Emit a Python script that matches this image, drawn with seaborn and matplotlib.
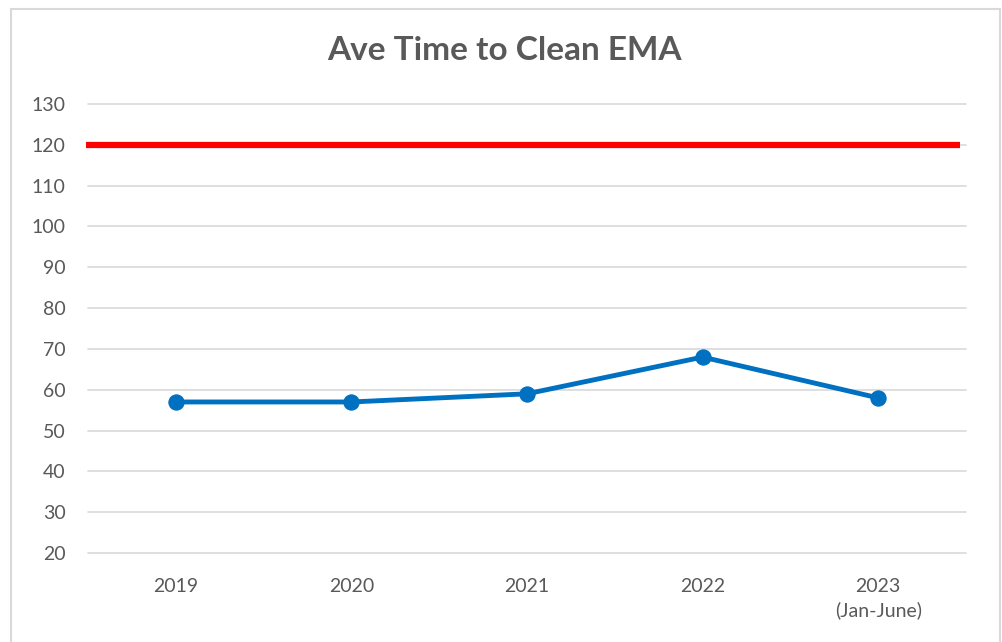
import matplotlib
matplotlib.use("Agg")
import matplotlib.pyplot as plt
import matplotlib.patches as patches
import seaborn as sns
import pandas as pd

categories = ["2019", "2020", "2021", "2022", "2023\n(Jan-June)"]
ave_time = [57, 57, 59, 68, 58]
target = 120
yticks = [20, 30, 40, 50, 60, 70, 80, 90, 100, 110, 120, 130]
title = "Ave Time to Clean EMA"

sns.set_theme(style="white")
plt.rcParams['font.family'] = ['Lato', 'DejaVu Sans']

fig = plt.figure(figsize=(10.03, 6.42), dpi=100)
ax = fig.add_axes([88/1003, 1-553/642, (966-88)/1003, (553-104)/642])

# figure border
fig.patches.append(patches.Rectangle((11/1003, -0.05), (1000-11)/1003, 1.05 - 9/642,
                                     transform=fig.transFigure, fill=False,
                                     edgecolor="#D9D9D9", linewidth=1.5))

df = pd.DataFrame({"x": range(len(categories)), "y": ave_time})
for yv in yticks:
    ax.axhline(yv, color="#D9D9D9", linewidth=1.2, zorder=0, clip_on=False)
ax.axhline(target, xmin=-0.002, xmax=0.993, color="#FF0000", linewidth=4.5, zorder=2,
           clip_on=False, solid_capstyle="butt")
sns.lineplot(data=df, x="x", y="y", ax=ax, color="#0070C0", linewidth=3.5,
             marker="o", markersize=11, markeredgecolor="#0070C0", zorder=3)

ax.set_xlim(-0.5, len(categories) - 0.5)
ax.set_ylim(20, 130)
ax.set_yticks(yticks)
ax.set_xticks(range(len(categories)))
ax.set_xticklabels(categories)
ax.set_xlabel("")
ax.set_ylabel("")
ax.grid(False)
for s in ax.spines.values():
    s.set_visible(False)
ax.tick_params(axis="y", length=0, pad=16, labelsize=14, labelcolor="#595959")
ax.tick_params(axis="x", length=0, pad=18, labelsize=14, labelcolor="#595959")
for lbl in ax.get_xticklabels():
    lbl.set_verticalalignment("top")
    lbl.set_linespacing(1.45)

fig.text(0.503, 1-51/642, title, ha="center", va="center", fontsize=24,
         fontweight="bold", color="#595959")

fig.savefig("out.png", dpi=100)
